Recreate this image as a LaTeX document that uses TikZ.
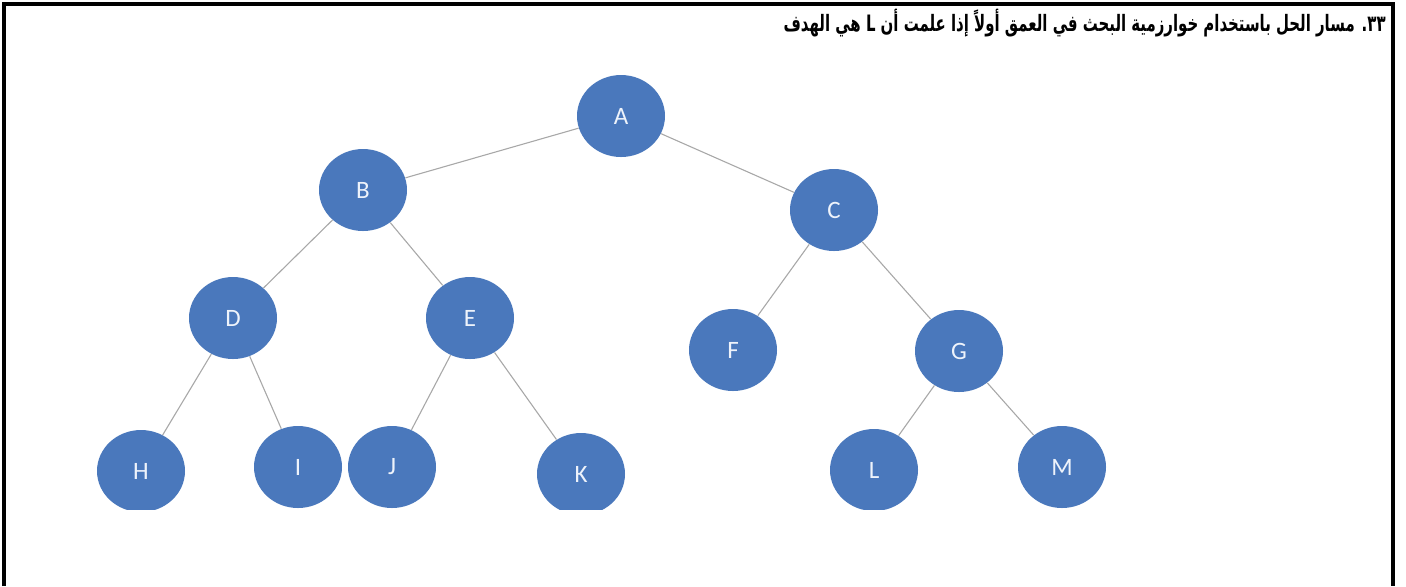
\documentclass[tikz,border=0pt]{standalone}
\usepackage{fontspec}
\setmainfont{Carlito}
\newfontfamily\arabicfont[Script=Arabic]{DejaVu Sans}
\TeXXeTstate=1
\usetikzlibrary{shapes.geometric}
\definecolor{nodeblue}{HTML}{4A78BC}
\definecolor{edgegray}{HTML}{A8A8A8}
\definecolor{labelwhite}{HTML}{EEF3FB}
\tikzset{
  treenode/.style={ellipse, fill=nodeblue, draw=none, minimum width=44pt, minimum height=41pt, inner sep=0pt, text=labelwhite, font=\fontsize{12.5pt}{14pt}\selectfont},
  treeedge/.style={draw=edgegray, line width=0.55pt},
  frameline/.style={line width=1.6pt, black}
}
\begin{document}
\begin{tikzpicture}[x=0.5pt, y=-0.5pt]
\useasboundingbox (0,0) rectangle (1406,586);
\coordinate (f1) at (4,586);
\coordinate (f2) at (4,4);
\coordinate (f3) at (1393,4);
\coordinate (f4) at (1393,586);
\draw[frameline] (f1) -- (f2) -- (f3) -- (f4);
\node[anchor=east, inner sep=0pt] (title) at (1386,23) {\resizebox*{301pt}{14pt}{\arabicfont\bfseries\beginR ٣٣. مسار الحل باستخدام خوارزمية البحث في العمق أولاً إذا علمت أن L هي الهدف\endR}};
\begin{scope}
\clip (0,40) rectangle (1406,509);
\node[treenode] (A) at (621,116) {A};
\node[treenode] (B) at (363,190) {B};
\node[treenode] (C) at (834,210) {C};
\node[treenode] (D) at (233,318) {D};
\node[treenode] (E) at (470,318) {E};
\node[treenode] (F) at (733,350) {F};
\node[treenode] (G) at (959,351) {G};
\node[treenode] (H) at (141,471) {H};
\node[treenode] (I) at (298,467) {I};
\node[treenode] (J) at (392,467) {J};
\node[treenode] (K) at (581,474) {K};
\node[treenode] (L) at (874,470) {L};
\node[treenode] (M) at (1062,467) {M};
\end{scope}
\draw[treeedge] (A) -- (B);
\draw[treeedge] (A) -- (C);
\draw[treeedge] (B) -- (D);
\draw[treeedge] (B) -- (E);
\draw[treeedge] (C) -- (F);
\draw[treeedge] (C) -- (G);
\draw[treeedge] (D) -- (H);
\draw[treeedge] (D) -- (I);
\draw[treeedge] (E) -- (J);
\draw[treeedge] (E) -- (K);
\draw[treeedge] (G) -- (L);
\draw[treeedge] (G) -- (M);
\end{tikzpicture}
\end{document}
